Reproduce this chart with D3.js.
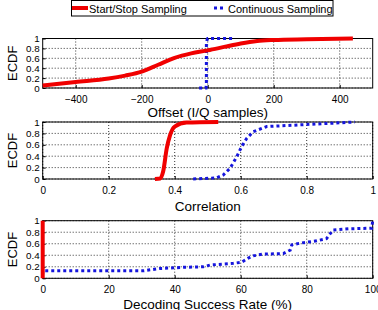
<!DOCTYPE html>
<html>
<head>
<meta charset="utf-8">
<script src="https://cdn.jsdelivr.net/npm/d3@7"></script>
<style>
  body { margin: 0; background: #fff; }
  svg { display: block; font-family: "Liberation Sans", Arial, sans-serif; }
</style>
</head>
<body>
<div id="chart"></div>
<script>
// ECDF curves, [x, ecdf] pairs
const offsetStartStop = [[-500, 0.05], [-400, 0.12], [-300, 0.19], [-250, 0.25], [-200, 0.33],
  [-150, 0.47], [-100, 0.61], [-50, 0.7], [0, 0.76], [50, 0.83], [100, 0.9], [150, 0.95],
  [200, 0.97], [300, 0.985], [440, 1.0]];
const offsetContinuous = [[-26, 0], [-5, 0], [-4, 0.1], [-4, 0.9], [-2, 0.97], [0, 1], [75, 1]];

const corrStartStop = [[0.34, 0], [0.356, 0.01], [0.365, 0.13], [0.376, 0.54], [0.386, 0.77],
  [0.40, 0.92], [0.436, 0.99], [0.532, 1.0]];
const corrContinuous = [[0.456, 0], [0.527, 0.02], [0.547, 0.07], [0.568, 0.19], [0.588, 0.39],
  [0.603, 0.57], [0.618, 0.71], [0.638, 0.83], [0.679, 0.92], [0.78, 0.95], [0.88, 0.98], [0.946, 1.0]];

const decodeStartStop = [[0, 0], [0, 1]];
const decodeContinuous = [[0, 0.07], [0, 0.13], [30.5, 0.13], [35.5, 0.17], [42.6, 0.19], [48.7, 0.2],
  [50.7, 0.23], [57.8, 0.26], [60.3, 0.28], [62.3, 0.35], [63.8, 0.39], [66.8, 0.42], [72.9, 0.43],
  [75, 0.49], [75.5, 0.58], [78, 0.61], [83, 0.65], [86, 0.69], [88, 0.84], [93, 0.86],
  [99.7, 0.87], [100, 1.0]];

const yTicks = [0, 0.2, 0.4, 0.6, 0.8, 1];
const legendNames = ['Start/Stop Sampling', 'Continuous Sampling'];

const W = 378, H = 310;
const red = '#f00000', blue = '#1515dd';

const svg = d3.select('#chart').append('svg').attr('width', W).attr('height', H);

const panels = [
  { top: 38.5, bottom: 88, domain: [-500, 500], ticks: [-400, -200, 0, 200, 400],
    title: 'Offset (I/Q samples)', titleY: 117, a: offsetStartStop, b: offsetContinuous, smooth: true },
  { top: 122, bottom: 179, domain: [0, 1], ticks: [0, 0.2, 0.4, 0.6, 0.8, 1],
    title: 'Correlation', titleY: 211, a: corrStartStop, b: corrContinuous, smooth: true },
  { top: 220.7, bottom: 278.3, domain: [0, 100], ticks: [0, 20, 40, 60, 80, 100],
    title: 'Decoding Success Rate (%)', titleY: 309, a: decodeStartStop, b: decodeContinuous, smooth: false }
];

const left = 42.7, right = 372.7;

panels.forEach(p => {
  const x = d3.scaleLinear().domain(p.domain).range([left, right]);
  const y = d3.scaleLinear().domain([0, 1]).range([p.bottom, p.top]);
  const g = svg.append('g');

  // dotted grid
  g.selectAll('.gx').data(p.ticks).enter().append('line')
    .attr('x1', d => x(d)).attr('x2', d => x(d))
    .attr('y1', p.top).attr('y2', p.bottom)
    .attr('stroke', '#000').attr('stroke-width', 0.8).attr('stroke-dasharray', '1,2');
  g.selectAll('.gy').data(yTicks).enter().append('line')
    .attr('x1', left).attr('x2', right)
    .attr('y1', d => y(d)).attr('y2', d => y(d))
    .attr('stroke', '#000').attr('stroke-width', 0.8).attr('stroke-dasharray', '1,2');

  // axes, matlab style: ticks inside
  const xa = g.append('g').attr('transform', `translate(0,${p.bottom})`)
    .call(d3.axisBottom(x).tickValues(p.ticks).tickSize(-3).tickPadding(8).tickFormat(d3.format('')));
  const ya = g.append('g').attr('transform', `translate(${left},0)`)
    .call(d3.axisLeft(y).tickValues(yTicks).tickSize(-3).tickPadding(3).tickFormat(d3.format('')));
  [xa, ya].forEach(a => {
    a.select('.domain').remove();
    a.selectAll('text').attr('font-size', '10px').attr('fill', '#000')
      .attr('font-family', '"Liberation Sans", Arial, sans-serif');
    a.selectAll('line').attr('stroke', '#000');
  });
  ya.selectAll('text').attr('font-size', '9.8px');

  // box
  g.append('rect').attr('x', left).attr('y', p.top)
    .attr('width', right - left).attr('height', p.bottom - p.top)
    .attr('fill', 'none').attr('stroke', '#000').attr('stroke-width', 1);

  const lineB = d3.line().x(d => x(d[0])).y(d => y(d[1]));
  const lineA = d3.line().x(d => x(d[0])).y(d => y(d[1]))
    .curve(p.smooth ? d3.curveMonotoneX : d3.curveLinear);
  g.append('path').datum(p.b).attr('d', lineB)
    .attr('fill', 'none').attr('stroke', blue).attr('stroke-width', 3)
    .attr('stroke-dasharray', '3,3');
  g.append('path').datum(p.a).attr('d', lineA)
    .attr('fill', 'none').attr('stroke', red).attr('stroke-width', 4)
    .attr('stroke-linejoin', 'round');

  g.append('text').attr('x', (left + right) / 2).attr('y', p.titleY)
    .attr('text-anchor', 'middle').attr('font-size', '13.5px').text(p.title);
  g.append('text')
    .attr('transform', `translate(17,${(p.top + p.bottom) / 2}) rotate(-90)`)
    .attr('text-anchor', 'middle').attr('font-size', '13px').text('ECDF');
});

// legend
const lg = svg.append('g');
lg.append('rect').attr('x', 71.5).attr('y', 0.5).attr('width', 261.5).attr('height', 15.5)
  .attr('fill', '#fff').attr('stroke', '#000').attr('stroke-width', 1);
lg.append('line').attr('x1', 72).attr('x2', 88).attr('y1', 8).attr('y2', 8)
  .attr('stroke', red).attr('stroke-width', 4);
lg.append('text').attr('x', 89).attr('y', 12.5).attr('font-size', '11px').text(legendNames[0]);
lg.append('line').attr('x1', 214).attr('x2', 225).attr('y1', 8).attr('y2', 8)
  .attr('stroke', blue).attr('stroke-width', 3).attr('stroke-dasharray', '3,3');
lg.append('text').attr('x', 228).attr('y', 12.5).attr('font-size', '11px').text(legendNames[1]);
</script>
</body>
</html>
